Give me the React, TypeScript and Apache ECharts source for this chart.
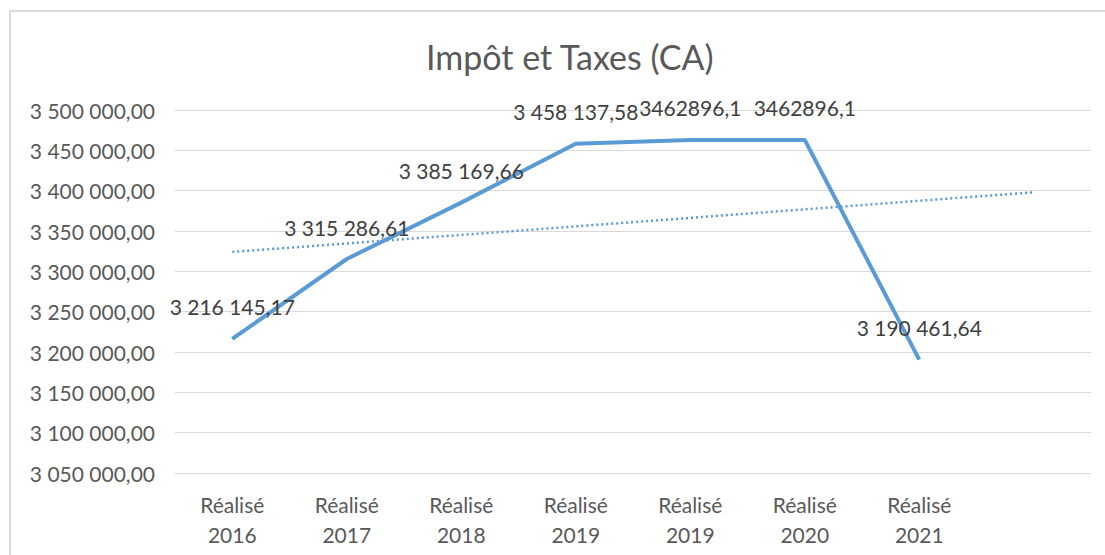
import React, { useEffect, useRef } from "react";
import * as echarts from "echarts";

const categories = ["Réalisé\n2016", "Réalisé\n2017", "Réalisé\n2018", "Réalisé\n2019", "Réalisé\n2019", "Réalisé\n2020", "Réalisé\n2021", ""];
const values = [3216145.17, 3315286.61, 3385169.66, 3458137.58, 3462896.1, 3462896.1, 3190461.64];
const valueLabels = ["3 216 145,17", "3 315 286,61", "3 385 169,66", "3 458 137,58", "3462896,1", "3462896,1", "3 190 461,64"];
// linear trend: start at first category, end at forecast slot
const trendValues = [3324000, null, null, null, null, null, null, 3398000];

const yMin = 3050000;
const yMax = 3500000;
const yStep = 50000;

function formatFr(v: number): string {
  const s = Math.round(v).toString();
  const parts: string[] = [];
  for (let i = s.length; i > 0; i -= 3) parts.unshift(s.slice(Math.max(0, i - 3), i));
  return parts.join(" ") + ",00";
}

export default function App() {
  const ref = useRef<HTMLDivElement>(null);
  useEffect(() => {
    if (!ref.current) return;
    const chart = echarts.init(ref.current, null, { renderer: "svg" });
    const font = "Lato";
    chart.setOption({
      animation: false,
      backgroundColor: "#ffffff",
      textStyle: { fontFamily: font },
      title: {
        text: "Impôt et Taxes (CA)",
        left: 421,
        top: 34,
        textStyle: { fontFamily: font, fontSize: 34, fontWeight: "normal", color: "#595959" },
      },
      graphic: [
        {
          type: "rect",
          shape: { x: 10, y: 11, width: 1200, height: 600 },
          style: { fill: "none", stroke: "#d9d9d9", lineWidth: 2 },
          silent: true,
        },
      ],
      grid: { left: 175, right: 14, top: 110, bottom: 82 },
      xAxis: {
        type: "category",
        data: categories,
        boundaryGap: true,
        axisLine: { show: false },
        axisTick: { show: false },
        axisLabel: { color: "#595959", fontSize: 21, fontFamily: font, lineHeight: 30, margin: 16 },
      },
      yAxis: {
        type: "value",
        min: yMin,
        max: yMax,
        interval: yStep,
        axisLine: { show: false },
        axisTick: { show: false },
        splitLine: { lineStyle: { color: "#d9d9d9", width: 1 } },
        axisLabel: {
          color: "#595959",
          fontSize: 21,
          fontFamily: font,
          margin: 20,
          formatter: (v: number) => formatFr(v),
        },
      },
      series: [
        {
          type: "line",
          data: values,
          symbol: "circle",
          symbolSize: 1,
          showSymbol: true,
          itemStyle: { color: "rgba(91,155,213,0)" },
          lineStyle: { color: "#5b9bd5", width: 4 },
          label: {
            show: true,
            position: "top",
            distance: 21,
            color: "#404040",
            fontSize: 21,
            fontFamily: font,
            formatter: (p: any) => valueLabels[p.dataIndex],
          },
          labelLayout: { hideOverlap: false },
          z: 3,
        },
        {
          type: "line",
          data: trendValues,
          connectNulls: true,
          symbol: "none",
          lineStyle: { color: "#5b9bd5", width: 2.5, type: [2, 3] },
          z: 2,
        },
      ],
    });
    return () => chart.dispose();
  }, []);
  return <div ref={ref} style={{ position: "fixed", left: 0, top: 0, width: 1105, height: 555 }} />;
}
